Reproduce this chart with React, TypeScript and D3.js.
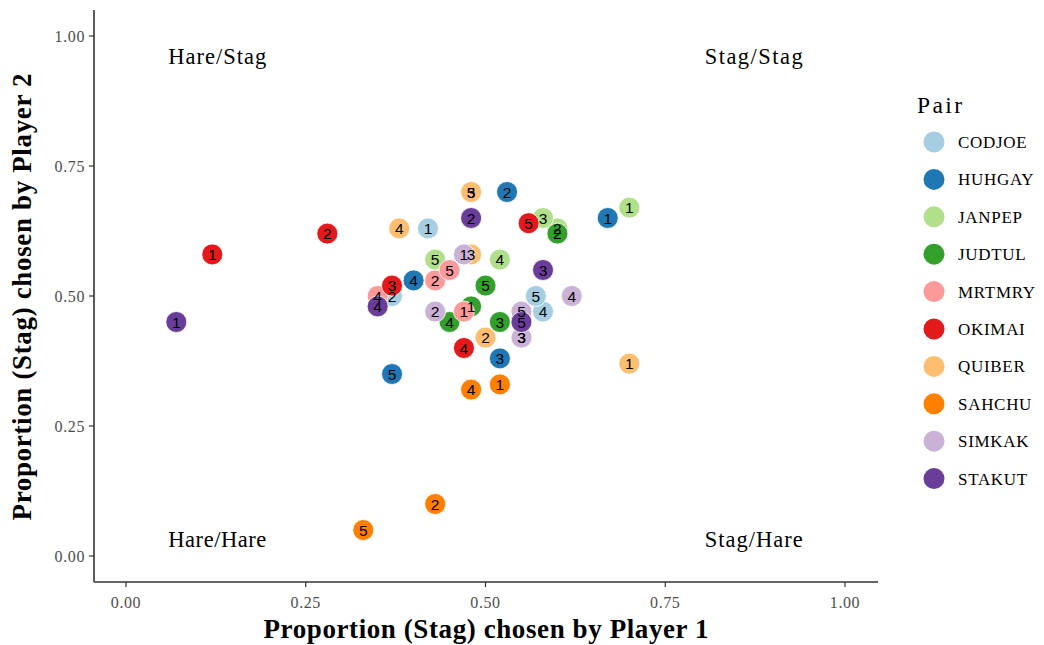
import * as d3 from 'd3'

const pairs = ['CODJOE', 'HUHGAY', 'JANPEP', 'JUDTUL', 'MRTMRY', 'OKIMAI', 'QUIBER', 'SAHCHU', 'SIMKAK', 'STAKUT']
const pairColors = ['#a6cee3', '#1f78b4', '#b2df8a', '#33a02c', '#fb9a99', '#e31a1c', '#fdbf6f', '#ff7f00', '#cab2d6', '#6a3d9a']

// [round, player1, player2] per pair
const codjoe = [[1, 0.42, 0.63], [2, 0.37, 0.50], [3, 0.48, 0.70], [4, 0.58, 0.47], [5, 0.57, 0.50]]
const huhgay = [[1, 0.67, 0.65], [2, 0.53, 0.70], [3, 0.52, 0.38], [4, 0.40, 0.53], [5, 0.37, 0.35]]
const janpep = [[1, 0.70, 0.67], [2, 0.60, 0.63], [3, 0.58, 0.65], [4, 0.52, 0.57], [5, 0.43, 0.57]]
const judtul = [[1, 0.48, 0.48], [2, 0.60, 0.62], [3, 0.52, 0.45], [4, 0.45, 0.45], [5, 0.50, 0.52]]
const mrtmry = [[1, 0.47, 0.47], [2, 0.43, 0.53], [3, 0.55, 0.42], [4, 0.35, 0.50], [5, 0.45, 0.55]]
const okimai = [[1, 0.12, 0.58], [2, 0.28, 0.62], [3, 0.37, 0.52], [4, 0.47, 0.40], [5, 0.56, 0.64]]
const quiber = [[1, 0.70, 0.37], [2, 0.50, 0.42], [3, 0.48, 0.58], [4, 0.38, 0.63], [5, 0.48, 0.70]]
const sahchu = [[1, 0.52, 0.33], [2, 0.43, 0.10], [4, 0.48, 0.32], [5, 0.33, 0.05]]
const simkak = [[1, 0.47, 0.58], [2, 0.43, 0.47], [3, 0.55, 0.42], [4, 0.62, 0.50], [5, 0.55, 0.47]]
const stakut = [[1, 0.07, 0.45], [2, 0.48, 0.65], [3, 0.58, 0.55], [4, 0.35, 0.48], [5, 0.55, 0.45]]

const pairData = [codjoe, huhgay, janpep, judtul, mrtmry, okimai, quiber, sahchu, simkak, stakut]

const xTicks = [0, 0.25, 0.5, 0.75, 1]
const yTicks = [0, 0.25, 0.5, 0.75, 1]

const quadrants = [
  { label: 'Hare/Stag', x: 0.127, y: 0.96 },
  { label: 'Stag/Stag', x: 0.873, y: 0.96 },
  { label: 'Hare/Hare', x: 0.127, y: 0.03 },
  { label: 'Stag/Hare', x: 0.873, y: 0.03 },
]

const serif = '"Liberation Serif", "Times New Roman", serif'
const sans = '"Liberation Sans", Arial, sans-serif'

export default function App() {
  const width = 1044
  const height = 645
  const panel = { left: 94, right: 878, top: 10, bottom: 582 }

  const x = d3.scaleLinear().domain([0, 1]).range([126, 845])
  const y = d3.scaleLinear().domain([0, 1]).range([556, 36])

  const points = pairData.flatMap((rows, i) =>
    rows.map(([round, p1, p2]) => ({ pair: pairs[i], color: pairColors[i], round, p1, p2 }))
  )

  const axisColor = '#333333'
  const tickText = '#4d4d4d'

  return (
    <svg width={width} height={height} style={{ position: 'absolute', left: 0, top: 0, background: '#fff' }}>
      {/* axes */}
      <line x1={panel.left} x2={panel.left} y1={panel.top} y2={panel.bottom} stroke={axisColor} strokeWidth={1.6} />
      <line x1={panel.left} x2={panel.right} y1={panel.bottom} y2={panel.bottom} stroke={axisColor} strokeWidth={1.6} />

      {xTicks.map(t => (
        <g key={'x' + t}>
          <line x1={x(t)} x2={x(t)} y1={panel.bottom} y2={panel.bottom + 5} stroke={axisColor} strokeWidth={1.2} />
          <text x={x(t)} y={panel.bottom + 26} textAnchor="middle" fontFamily={serif} fontSize={16} letterSpacing={0.6} fill={tickText}>
            {d3.format('.2f')(t)}
          </text>
        </g>
      ))}
      {yTicks.map(t => (
        <g key={'y' + t}>
          <line x1={panel.left - 5} x2={panel.left} y1={y(t)} y2={y(t)} stroke={axisColor} strokeWidth={1.2} />
          <text x={panel.left - 9} y={y(t)} dy="0.35em" textAnchor="end" fontFamily={serif} fontSize={16} letterSpacing={0.6} fill={tickText}>
            {d3.format('.2f')(t)}
          </text>
        </g>
      ))}

      <text x={486} y={638} textAnchor="middle" fontFamily={serif} fontSize={27} fontWeight="bold" fill="#000" textLength={445}>
        Proportion (Stag) chosen by Player 1
      </text>
      <text transform={`translate(31,${(panel.top + panel.bottom) / 2 + 1}) rotate(-90)`} textAnchor="middle" fontFamily={serif} fontSize={27} fontWeight="bold" fill="#000" textLength={447}>
        Proportion (Stag) chosen by Player 2
      </text>

      {quadrants.map(q => (
        <text key={q.label} x={x(q.x)} y={y(q.y) + 7} textAnchor="middle" fontFamily={serif} fontSize={22.5} fill="#000" textLength={98}>
          {q.label}
        </text>
      ))}

      {points.map((p, i) => (
        <circle key={'c' + i} cx={x(p.p1)} cy={y(p.p2)} r={10.5} fill={p.color} stroke="#fff" strokeWidth={0.8} />
      ))}
      {points.map((p, i) => (
        <text key={'t' + i} x={x(p.p1)} y={y(p.p2)} dy="0.36em" textAnchor="middle" fontFamily={sans} fontSize={15.5} fill="#000">
          {p.round}
        </text>
      ))}

      {/* legend */}
      <text x={917} y={113} fontFamily={serif} fontSize={23.5} fill="#000" textLength={45}>Pair</text>
      {pairs.map((name, i) => (
        <g key={name} transform={`translate(0,${142 + i * 37.4})`}>
          <circle cx={934} cy={0} r={10.5} fill={pairColors[i]} />
          <text x={958} y={0} dy="0.35em" fontFamily={serif} fontSize={17} letterSpacing={0.7} fill="#000">{name}</text>
        </g>
      ))}
    </svg>
  )
}
